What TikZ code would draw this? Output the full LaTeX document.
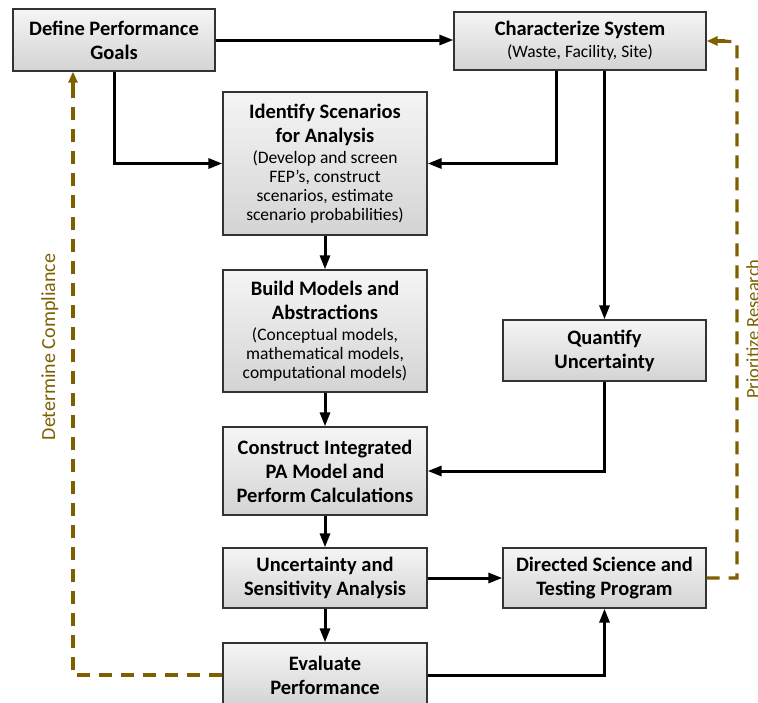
\documentclass[tikz,border=0pt]{standalone}
\usepackage{fontspec}
\setmainfont{Carlito}
\usetikzlibrary{arrows.meta,calc}
\definecolor{brn}{HTML}{7F6000}
\newcommand{\subtxt}{\fontsize{17.5}{19}\selectfont\mdseries}
\begin{document}
\begin{tikzpicture}[x=1pt,y=1pt,
  box/.style={draw=black!80, line width=1.3pt, top color=black!4, bottom color=black!17,
    align=center, inner sep=0pt, font=\fontsize{20.5}{24}\selectfont\bfseries},
  con/.style={line width=3pt, -{Triangle[length=14pt,width=10pt]}},
  dsh/.style={brn, line width=3.2pt, dash pattern=on 13pt off 9pt},
  dtip/.style={-{Triangle[length=11pt,width=9pt]}},
  lbl/.style={brn, font=\fontsize{20}{22}\selectfont, rotate=90, inner sep=0pt}
]
\useasboundingbox (0,0) rectangle (758,-702);
\clip (0,0) rectangle (758,-702);
\fill[white] (0,0) rectangle (758,-702);

\node[box, minimum width=202pt, minimum height=62pt] (goals) at (114,-40) {Define Performance\\Goals};
\node[box, minimum width=252pt, minimum height=58pt] (charsys) at (580,-41) {Characterize System\\[-2pt]{\subtxt (Waste, Facility, Site)}};
\node[box, minimum width=204pt, minimum height=143pt] (ident) at (325,-163.5) {Identify Scenarios\\for Analysis\\[-3pt]{\subtxt (Develop and screen}\\[-5pt]{\subtxt FEP’s, construct}\\[-5pt]{\subtxt scenarios, estimate}\\[-5pt]{\subtxt scenario probabilities)}};
\node[box, minimum width=204pt, minimum height=122pt] (build) at (325,-331) {Build Models and\\Abstractions\\[-3pt]{\subtxt (Conceptual models,}\\[-5pt]{\subtxt mathematical models,}\\[-5pt]{\subtxt computational models)}};
\node[box, minimum width=203pt, minimum height=61pt] (quant) at (604.5,-350.5) {Quantify\\Uncertainty};
\node[box, minimum width=204pt, minimum height=88pt] (constr) at (325,-471) {Construct Integrated\\PA Model and\\Perform Calculations};
\node[box, minimum width=204pt, minimum height=60pt] (usa) at (325,-578) {Uncertainty and\\Sensitivity Analysis};
\node[box, minimum width=203pt, minimum height=60pt] (dsp) at (604.5,-578) {Directed Science and\\Testing Program};
\node[box, minimum width=204pt, minimum height=64pt] (eval) at (325,-675) {Evaluate\\Performance};

\coordinate (dl) at (73,-40);
\coordinate (dr) at (737,-41);

\draw[con] (goals.east) -- (goals.east -| charsys.west);
\draw[con] (goals.south) |- (ident.west);
\draw[con] ([xshift=-24pt]charsys.south) |- (ident.east);
\draw[con] (charsys.south -| quant.north) -- (quant.north);
\draw[con] (ident.south) -- (build.north);
\draw[con] (build.south) -- (constr.north);
\draw[con] (quant.south) |- (constr.east);
\draw[con] (constr.south) -- (usa.north);
\draw[con] (usa.east) -- (dsp.west);
\draw[con] (usa.south) -- (eval.north);
\draw[con] (eval.east) -| (dsp.south);

\draw[dsh] (eval.west) -| ([yshift=-14pt]dl |- goals.south);
\draw[brn, line width=3.2pt, dtip] ([yshift=-16pt]dl |- goals.south) -- (dl |- goals.south);
\draw[dsh] (dsp.east) -| ([yshift=-1pt]dr) -- ([xshift=16pt]charsys.east);
\draw[brn, line width=3.2pt, dtip] ([xshift=18pt]charsys.east) -- (charsys.east);

\node[lbl, anchor=north] (dc) at (41,-347) {Determine Compliance};
\node[lbl, anchor=north, font=\fontsize{18.5}{22}\selectfont] (pr) at (746,-329) {Prioritize Research};
\end{tikzpicture}
\end{document}
